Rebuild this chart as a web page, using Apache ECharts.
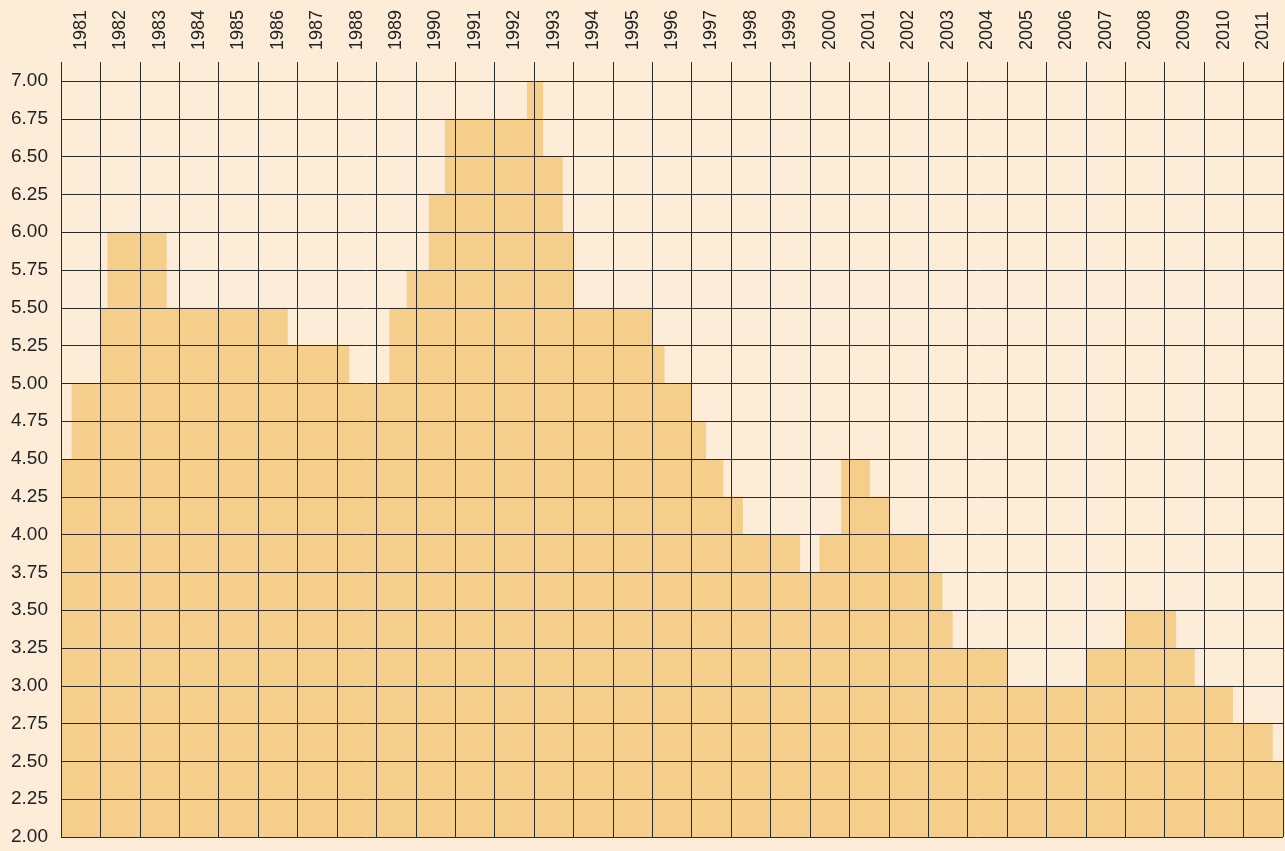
<!DOCTYPE html>
<html>
<head>
<meta charset="utf-8">
<script src="https://cdn.jsdelivr.net/npm/echarts@6/dist/echarts.min.js"></script>
<style>
  html, body { margin: 0; padding: 0; background: #fcecd8; }
  #chart { width: 1285px; height: 851px; }
</style>
</head>
<body>
<div id="chart"></div>
<script>
// year labels along the top
const years = ['1981','1982','1983','1984','1985','1986','1987','1988','1989','1990',
    '1991','1992','1993','1994','1995','1996','1997','1998','1999','2000',
    '2001','2002','2003','2004','2005','2006','2007','2008','2009','2010','2011'];

// dates (decimal years) when the rate changed, and the rate from that date on
const changeDates = [1981.00, 1981.27, 1982.00, 1982.18, 1983.68, 1986.75, 1988.31, 1989.33,
    1989.77, 1990.33, 1990.74, 1992.82, 1993.23, 1993.73, 1994.00, 1996.00, 1996.31,
    1997.00, 1997.36, 1997.80, 1998.30, 1999.75, 2000.24, 2000.79, 2001.52, 2002.01,
    2003.00, 2003.36, 2003.62, 2005.00, 2007.00, 2008.02, 2009.29, 2009.76, 2010.73,
    2011.74, 2012.00];
const rates = [4.50, 5.00, 5.50, 6.00, 5.50, 5.25, 5.00, 5.50,
    5.75, 6.25, 6.75, 7.00, 6.50, 6.00, 5.50, 5.25, 5.00,
    4.75, 4.50, 4.25, 4.00, 3.75, 4.00, 4.50, 4.25, 4.00,
    3.75, 3.50, 3.25, 3.00, 3.25, 3.50, 3.25, 3.00, 2.75,
    2.50, 2.50];

const gridColor = '#2b2b2b';

var myChart = echarts.init(document.getElementById('chart'));
myChart.setOption({
    animation: false,
    backgroundColor: '#fcecd8',
    textStyle: { fontFamily: 'Liberation Sans' },
    grid: { left: 61, right: 2, top: 81, bottom: 14 },
    xAxis: [{
        type: 'value',
        min: 1981,
        max: 2012,
        interval: 1,
        z: 10,
        axisLine: { show: false },
        axisTick: { show: false },
        axisLabel: { show: false },
        splitLine: { show: true, lineStyle: { color: gridColor, width: 1 } }
    }, {
        type: 'category',
        position: 'top',
        data: years,
        boundaryGap: true,
        z: 10,
        axisLine: { show: false },
        axisTick: { show: true, length: 19, lineStyle: { color: gridColor, width: 1 } },
        axisLabel: { rotate: -90, margin: 31, fontSize: 18, color: '#222' },
        splitLine: { show: false }
    }],
    yAxis: {
        type: 'value',
        min: 2,
        max: 7,
        interval: 0.25,
        z: 10,
        axisLine: { show: false },
        axisTick: { show: false },
        axisLabel: {
            fontSize: 19,
            color: '#222',
            margin: 13,
            formatter: v => v.toFixed(2)
        },
        splitLine: { show: true, lineStyle: { color: gridColor, width: 1 } }
    },
    series: [{
        type: 'line',
        xAxisIndex: 0,
        step: 'end',
        symbol: 'none',
        data: changeDates.map((d, i) => [d, rates[i]]),
        lineStyle: { width: 0 },
        areaStyle: { color: '#f5ce8b', opacity: 1, origin: 'start' }
    }]
});
</script>
</body>
</html>
